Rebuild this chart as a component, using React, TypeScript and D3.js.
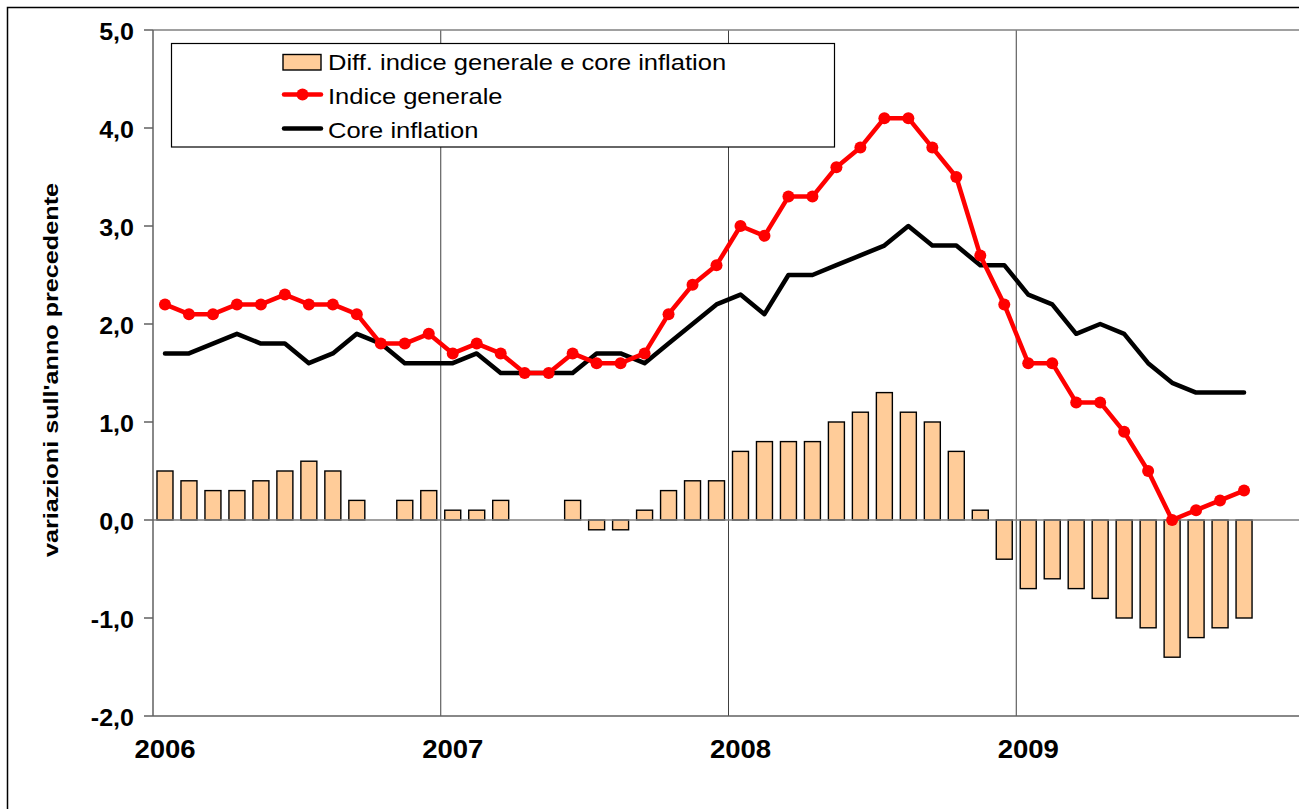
import React, { useEffect, useRef } from 'react';
import * as d3 from 'd3';

// variazioni % sull'anno precedente, gen 2006 - ott 2009
const years = ['2006', '2007', '2008', '2009'];

const indiceGenerale = [
  2.2, 2.1, 2.1, 2.2, 2.2, 2.3, 2.2, 2.2, 2.1, 1.8, 1.8, 1.9,
  1.7, 1.8, 1.7, 1.5, 1.5, 1.7, 1.6, 1.6, 1.7, 2.1, 2.4, 2.6,
  3.0, 2.9, 3.3, 3.3, 3.6, 3.8, 4.1, 4.1, 3.8, 3.5, 2.7, 2.2,
  1.6, 1.6, 1.2, 1.2, 0.9, 0.5, 0.0, 0.1, 0.2, 0.3,
];

const coreInflation = [
  1.7, 1.7, 1.8, 1.9, 1.8, 1.8, 1.6, 1.7, 1.9, 1.8, 1.6, 1.6,
  1.6, 1.7, 1.5, 1.5, 1.5, 1.5, 1.7, 1.7, 1.6, 1.8, 2.0, 2.2,
  2.3, 2.1, 2.5, 2.5, 2.6, 2.7, 2.8, 3.0, 2.8, 2.8, 2.6, 2.6,
  2.3, 2.2, 1.9, 2.0, 1.9, 1.6, 1.4, 1.3, 1.3, 1.3,
];

const differenza = [
  0.5, 0.4, 0.3, 0.3, 0.4, 0.5, 0.6, 0.5, 0.2, 0.0, 0.2, 0.3,
  0.1, 0.1, 0.2, 0.0, 0.0, 0.2, -0.1, -0.1, 0.1, 0.3, 0.4, 0.4,
  0.7, 0.8, 0.8, 0.8, 1.0, 1.1, 1.3, 1.1, 1.0, 0.7, 0.1, -0.4,
  -0.7, -0.6, -0.7, -0.8, -1.0, -1.1, -1.4, -1.2, -1.1, -1.0,
];

const yTicks = [-2, -1, 0, 1, 2, 3, 4, 5];
const legendLabels = ['Diff. indice generale e core inflation', 'Indice generale', 'Core inflation'];

const W = 1299;
const H = 809;
const FONT = "Arial, 'Liberation Sans', sans-serif";

const App = () => {
  const ref = useRef<SVGSVGElement>(null);

  useEffect(() => {
    const svg = d3.select(ref.current);
    svg.selectAll('*').remove();

    const nMonths = years.length * 12;
    const left = 153, top = 30, bottom = 716, right = 1304;

    const x = d3.scaleBand<number>().domain(d3.range(nMonths)).range([left, right]);
    const step = x.step();
    const cx = (i: number) => (x(i) as number) + step / 2;
    const barW = step * 2 / 3;
    const y = d3.scaleLinear().domain([-2, 5]).range([bottom, top]);

    // cornice esterna
    svg.append('rect')
      .attr('x', 7.5).attr('y', 7.5)
      .attr('width', W + 20).attr('height', H + 20)
      .attr('fill', 'white').attr('stroke', '#000').attr('stroke-width', 1.5);

    // griglia verticale anni
    svg.selectAll('line.grid')
      .data(years.slice(1))
      .enter().append('line')
      .attr('x1', (d, i) => (x((i + 1) * 12) as number))
      .attr('x2', (d, i) => (x((i + 1) * 12) as number))
      .attr('y1', top).attr('y2', bottom)
      .attr('stroke', '#404040').attr('stroke-width', 1);

    // bordo area del grafico
    svg.append('line')
      .attr('x1', left).attr('x2', right).attr('y1', top).attr('y2', top)
      .attr('stroke', '#808080').attr('stroke-width', 1.5);

    // barre
    svg.selectAll('rect.bar')
      .data(differenza)
      .enter().append('rect')
      .attr('x', (d, i) => cx(i) - barW / 2)
      .attr('y', (d) => y(Math.max(0, d)))
      .attr('width', barW)
      .attr('height', (d) => Math.abs(y(d) - y(0)))
      .attr('fill', '#FFCC99')
      .attr('stroke', '#000')
      .attr('stroke-width', 1.4)
      .style('display', (d) => (d === 0 ? 'none' : null));

    // linea dello zero
    svg.append('line')
      .attr('x1', left).attr('x2', right).attr('y1', y(0)).attr('y2', y(0))
      .attr('stroke', '#808080').attr('stroke-width', 1.5);

    // assi
    svg.append('line')
      .attr('x1', left).attr('x2', left).attr('y1', top).attr('y2', bottom)
      .attr('stroke', '#606060').attr('stroke-width', 1.5);
    svg.append('line')
      .attr('x1', left).attr('x2', right).attr('y1', bottom).attr('y2', bottom)
      .attr('stroke', '#606060').attr('stroke-width', 1.5);

    yTicks.forEach((t) => {
      svg.append('line')
        .attr('x1', left - 9).attr('x2', left).attr('y1', y(t)).attr('y2', y(t))
        .attr('stroke', '#606060').attr('stroke-width', 1.5);
      svg.append('text')
        .attr('transform', `translate(134,${y(t) + 10}) scale(1.09,1)`)
        .attr('text-anchor', 'end')
        .style('font', `bold 23px ${FONT}`)
        .attr('fill', '#000')
        .text(t.toFixed(1).replace('.', ','));
    });

    years.forEach((yr, k) => {
      svg.append('text')
        .attr('transform', `translate(${cx(k * 12)},758) scale(1.08,1)`)
        .attr('text-anchor', 'middle')
        .style('font', `bold 25.5px ${FONT}`)
        .attr('fill', '#000')
        .text(yr);
    });

    svg.append('text')
      .attr('transform', `translate(58,370) rotate(-90) scale(1.26,1)`)
      .attr('text-anchor', 'middle')
      .style('font', `bold 20px ${FONT}`)
      .attr('fill', '#000')
      .text("variazioni sull'anno precedente");

    // linee
    const line = d3.line<number>()
      .x((d, i) => cx(i))
      .y((d) => y(d));

    svg.append('path')
      .datum(coreInflation)
      .attr('d', line)
      .attr('fill', 'none')
      .attr('stroke', '#000')
      .attr('stroke-width', 4.5)
      .attr('stroke-linejoin', 'round')
      .attr('stroke-linecap', 'round');

    svg.append('path')
      .datum(indiceGenerale)
      .attr('d', line)
      .attr('fill', 'none')
      .attr('stroke', '#FF0000')
      .attr('stroke-width', 4.5)
      .attr('stroke-linejoin', 'round');

    svg.selectAll('circle.pt')
      .data(indiceGenerale)
      .enter().append('circle')
      .attr('cx', (d, i) => cx(i))
      .attr('cy', (d) => y(d))
      .attr('r', 6)
      .attr('fill', '#FF0000');

    // legenda
    const lg = svg.append('g');
    lg.append('rect')
      .attr('x', 171.5).attr('y', 43.5)
      .attr('width', 663).attr('height', 103.5)
      .attr('fill', 'white').attr('stroke', '#000').attr('stroke-width', 1.2);

    lg.append('rect')
      .attr('x', 283).attr('y', 54.5).attr('width', 38).attr('height', 15.5)
      .attr('fill', '#FFCC99').attr('stroke', '#000').attr('stroke-width', 1.4);

    lg.append('line')
      .attr('x1', 284).attr('x2', 321).attr('y1', 94.5).attr('y2', 94.5)
      .attr('stroke', '#FF0000').attr('stroke-width', 4.5).attr('stroke-linecap', 'round');
    lg.append('circle').attr('cx', 302.5).attr('cy', 94.5).attr('r', 6).attr('fill', '#FF0000');

    lg.append('line')
      .attr('x1', 284).attr('x2', 321).attr('y1', 128.5).attr('y2', 128.5)
      .attr('stroke', '#000').attr('stroke-width', 4.5).attr('stroke-linecap', 'round');

    legendLabels.forEach((lab, i) => {
      lg.append('text')
        .attr('transform', `translate(328,${70 + i * 34}) scale(1.135,1)`)
        .style('font', `22.5px ${FONT}`)
        .attr('fill', '#000')
        .text(lab);
    });
  }, []);

  return (
    <svg
      ref={ref}
      width={W}
      height={H}
      style={{ position: 'absolute', left: 0, top: 0, background: 'white' }}
    ></svg>
  );
};

export default App;
